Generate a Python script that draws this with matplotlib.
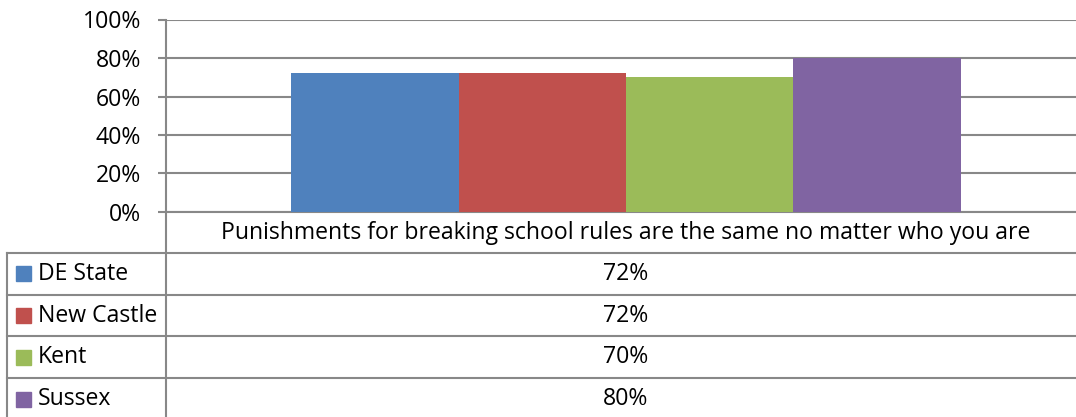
import matplotlib.pyplot as plt
from matplotlib.lines import Line2D

# ── data ──
categoria = 'Punishments for breaking school rules are the same no matter who you are'
series = ['DE State', 'New Castle', 'Kent', 'Sussex']
valores = [0.72, 0.72, 0.70, 0.80]
cores = ['#4F81BD', '#C0504D', '#9BBB59', '#8064A2']
yticks = [0, 0.2, 0.4, 0.6, 0.8, 1.0]

plt.rcParams['font.family'] = ['Open Sans', 'DejaVu Sans']
W, H = 1076, 417
GRID = '#888888'
LW = 1.5
FS = 16.6


def fx(px):
    return px / W


def fy(py):
    return 1 - py / H


fig = plt.figure(figsize=(W / 100, H / 100), dpi=100)

# plot area (pixels): x 166..1086, y 19.5..212
left, right, top, bottom = 166, 1086, 19.5, 212
ax = fig.add_axes([fx(left), fy(bottom), fx(right) - fx(left), fy(top) - fy(bottom)])

n = len(series)
w = 1 / 5.5
for i, (nome, v, c) in enumerate(zip(series, valores, cores)):
    ax.bar((i - (n - 1) / 2) * w, v, width=w, color=c, zorder=3)

ax.set_xlim(-0.5, 0.5)
ax.set_ylim(0, 1)
ax.set_yticks(yticks)
ax.set_yticklabels([f'{int(t * 100)}%' for t in yticks], fontsize=FS)
ax.set_xticks([])
ax.yaxis.grid(True, color=GRID, linewidth=LW, zorder=0)
ax.tick_params(axis='y', length=6, width=LW, color=GRID, pad=12)
for s in ['top', 'right']:
    ax.spines[s].set_visible(False)
for s in ['left', 'bottom']:
    ax.spines[s].set_color(GRID)
    ax.spines[s].set_linewidth(LW)
ax.spines['left'].set_zorder(4)

# ── data table ──
linhas = [252.7, 295, 336, 378, 420]
for y in linhas[:-1]:
    fig.add_artist(Line2D([fx(7), fx(W)], [fy(y), fy(y)], color=GRID, lw=LW))
fig.add_artist(Line2D([fx(7), fx(7)], [fy(linhas[0]), fy(H)], color=GRID, lw=LW))
fig.add_artist(Line2D([fx(166), fx(166)], [fy(212), fy(H)], color=GRID, lw=LW))

centro = (left + right) / 2 - 0.5
fig.text(fx(centro), fy(233), categoria, ha='center', va='center', fontsize=FS)

for i, (nome, v, c) in enumerate(zip(series, valores, cores)):
    yc = (linhas[i] + linhas[i + 1]) / 2
    fig.add_artist(plt.Rectangle((fx(16), fy(yc + 7.5)), fx(15), 15 / H, color=c))
    fig.text(fx(38), fy(yc), nome, ha='left', va='center', fontsize=FS)
    fig.text(fx(centro), fy(yc), f'{round(v * 100)}%', ha='center', va='center', fontsize=FS)

plt.savefig('out.png', dpi=100)
